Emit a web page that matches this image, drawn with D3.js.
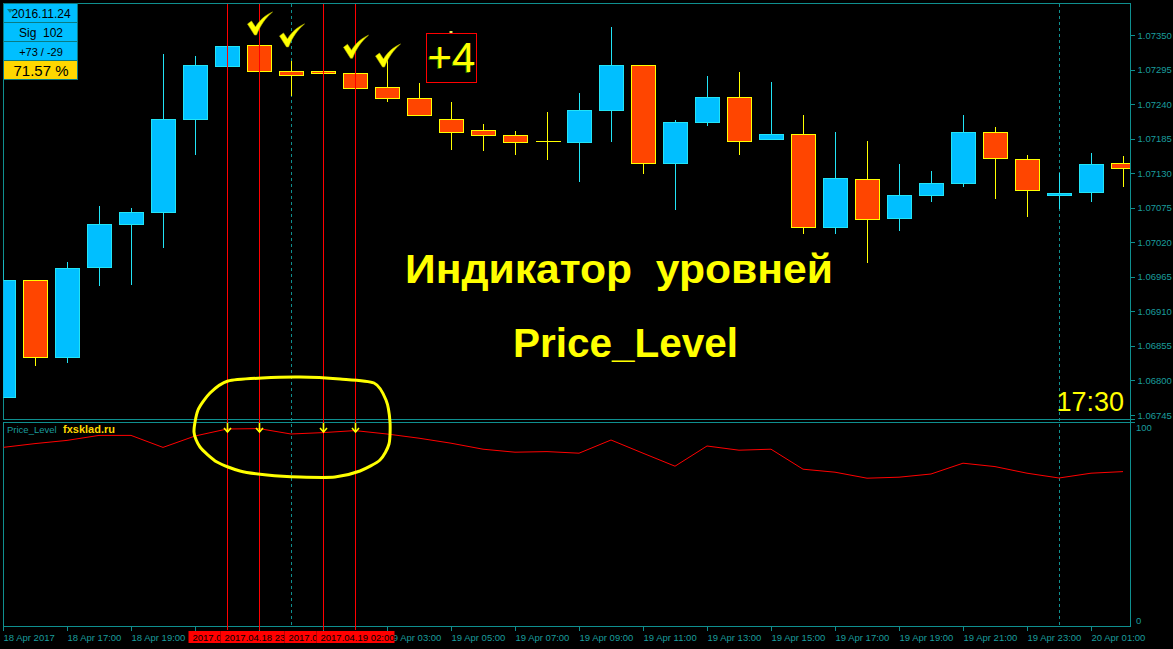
<!DOCTYPE html>
<html>
<head>
<meta charset="utf-8">
<title>Price_Level</title>
<style>
    html, body {
        margin: 0;
        padding: 0;
        background: #000;
    }

    svg {
        display: block;
    }

    text {
        font-family: "Liberation Sans", Arial, sans-serif;
    }
</style>
</head>
<body>
<script src="https://cdn.jsdelivr.net/npm/d3@7"></script>
<script>

    const width = 1173,
        height = 649;

    // EURUSD H1, 18 Apr 2017 15:00 .. 20 Apr 2017 02:00
    const opens = [1.06774, 1.06960, 1.06838, 1.06980, 1.07049, 1.07068, 1.07216, 1.07300, 1.07334, 1.07293,
        1.07293, 1.07290, 1.07267, 1.07249, 1.07217, 1.07198, 1.07190, 1.07181, 1.07180, 1.07230,
        1.07303, 1.07147, 1.07211, 1.07251, 1.07184, 1.07192, 1.07044, 1.07120, 1.07058, 1.07096,
        1.07114, 1.07195, 1.07152, 1.07095, 1.07100, 1.07146];
    const highs = [1.06992, 1.06960, 1.06988, 1.07078, 1.07075, 1.07320, 1.07317, 1.07333, 1.07334, 1.07309,
        1.07293, 1.07290, 1.07313, 1.07274, 1.07243, 1.07208, 1.07197, 1.07227, 1.07258, 1.07363,
        1.07303, 1.07215, 1.07285, 1.07291, 1.07275, 1.07223, 1.07196, 1.07181, 1.07145, 1.07134,
        1.07223, 1.07204, 1.07159, 1.07130, 1.07162, 1.07157];
    const lows = [1.06774, 1.06824, 1.06830, 1.06952, 1.06954, 1.07013, 1.07160, 1.07300, 1.07293, 1.07254,
        1.07289, 1.07266, 1.07245, 1.07222, 1.07169, 1.07167, 1.07161, 1.07152, 1.07118, 1.07182,
        1.07131, 1.07073, 1.07206, 1.07161, 1.07184, 1.07035, 1.07035, 1.06989, 1.07040, 1.07085,
        1.07110, 1.07090, 1.07062, 1.07074, 1.07086, 1.07110];
    const closes = [1.06960, 1.06838, 1.06979, 1.07049, 1.07068, 1.07216, 1.07302, 1.07333, 1.07293, 1.07287,
        1.07289, 1.07266, 1.07250, 1.07222, 1.07196, 1.07190, 1.07180, 1.07181, 1.07230, 1.07303,
        1.07147, 1.07211, 1.07252, 1.07182, 1.07192, 1.07044, 1.07122, 1.07057, 1.07096, 1.07114,
        1.07195, 1.07154, 1.07103, 1.07098, 1.07144, 1.07138];

    // Price_Level indicator (0..100)
    const levelValues = [88.3, 90.2, 91.8, 94.3, 94.3, 88.3, 94.0, 97.5, 97.7, 95.0,
        95.7, 96.7, 95.0, 92.9, 90.4, 87.4, 85.9, 86.2, 85.4, 92.0,
        85.4, 78.9, 89.0, 86.9, 87.4, 77.4, 75.9, 72.9, 73.4, 75.0,
        80.4, 78.7, 75.4, 73.0, 75.4, 76.2];

    const priceTicks = [1.06745, 1.06800, 1.06855, 1.06910, 1.06965, 1.07020,
        1.07075, 1.07130, 1.07185, 1.07240, 1.07295, 1.07350];
    const levelTicks = [0, 100];

    const timeTicks = [0, 2, 4, 6, 8, 10, 12, 14, 16, 18, 20, 22, 24, 26, 28, 30, 32, 34];
    const timeLabels = ["18 Apr 2017", "18 Apr 17:00", "18 Apr 19:00", "18 Apr 21:00", "18 Apr 23:00",
        "19 Apr 01:00", "19 Apr 03:00", "19 Apr 05:00", "19 Apr 07:00", "19 Apr 09:00", "19 Apr 11:00",
        "19 Apr 13:00", "19 Apr 15:00", "19 Apr 17:00", "19 Apr 19:00", "19 Apr 21:00", "19 Apr 23:00",
        "20 Apr 01:00"];

    // signal bars (red vertical lines), day separators
    const markedBars = [7, 8, 10, 11];
    // the tags overlap each other on the time scale, only these parts stay visible
    const markedLabels = ["2017.0", "2017.04.18 23", "2017.0", "2017.04.19 02:00"];
    const daySeparators = [9, 33];

    // check marks: bar and price under the mark
    const checkBars = [8, 9, 11, 12];
    const checkPrices = [1.07350, 1.07331, 1.07313, 1.07299];

    const infoRows = ["2016.11.24", "Sig  102", "+73 / -29", "71.57 %"];

    // hand drawn circle around the signals (screen pixels)
    const circlePoints = [[228, 381], [262, 378], [300, 377], [340, 379], [374, 383], [386, 400], [390, 422],
        [389, 444], [380, 460], [360, 471], [335, 477], [300, 477], [267, 475], [240, 471], [217, 462],
        [200, 447], [194, 432], [198, 410], [210, 393]];

    const teal = "#0f8f8f",
        tealText = "#1a9c9c";

    const svg = d3.select("body").append("svg")
        .attr("width", width)
        .attr("height", height)
        .style("background", "#000");

    const x = d3.scaleLinear().domain([0, 35]).range([3, 1123]);
    const y = d3.scaleLinear().domain([1.06745, 1.07350]).range([415, 35]);
    const yLevel = d3.scaleLinear().domain([0, 100]).range([624, 424]);

    const px = i => Math.round(x(i)) + 0.5;

    svg.append("clipPath").attr("id", "mainClip")
        .append("rect").attr("x", 3.5).attr("y", 3.5).attr("width", 1126.5).attr("height", 415);
    svg.append("clipPath").attr("id", "levelClip")
        .append("rect").attr("x", 3.5).attr("y", 422.5).attr("width", 1126.5).attr("height", 203);

    // frames
    const frames = svg.append("g")
        .attr("fill", "none")
        .attr("stroke", teal)
        .attr("shape-rendering", "crispEdges");
    frames.append("rect").attr("x", 3.5).attr("y", 3.5).attr("width", 1127).attr("height", 416);
    frames.append("rect").attr("x", 3.5).attr("y", 422.5).attr("width", 1127).attr("height", 204);
    frames.append("line").attr("x1", 1130.5).attr("x2", 1135).attr("y1", 419.5).attr("y2", 419.5);
    frames.append("line").attr("x1", 1130.5).attr("x2", 1135).attr("y1", 422.5).attr("y2", 422.5);

    // day separators
    svg.append("g")
        .selectAll("line")
        .data(daySeparators)
        .join("line")
        .attr("x1", d => px(d)).attr("x2", d => px(d))
        .attr("y1", 4).attr("y2", 626)
        .attr("stroke", teal)
        .attr("stroke-dasharray", "3,3")
        .attr("shape-rendering", "crispEdges");

    // candles
    const candles = svg.append("g")
        .attr("clip-path", "url(#mainClip)")
        .attr("shape-rendering", "crispEdges");

    const bars = d3.range(opens.length).map(i => ({
        i: i, o: opens[i], h: highs[i], l: lows[i], c: closes[i]
    }));
    const edgeColor = d => d.c > d.o ? "#22e4f6" : "#ffff00";

    candles.selectAll(".wick")
        .data(bars)
        .join("line")
        .attr("class", "wick")
        .attr("x1", d => px(d.i)).attr("x2", d => px(d.i))
        .attr("y1", d => Math.round(y(d.h)))
        .attr("y2", d => Math.round(y(d.l)) + 1)
        .attr("stroke", edgeColor);

    candles.selectAll(".body")
        .data(bars.filter(d => d.o !== d.c))
        .join("rect")
        .attr("class", "body")
        .attr("x", d => px(d.i) - 12)
        .attr("width", 24)
        .attr("y", d => Math.round(y(Math.max(d.o, d.c))) + 0.5)
        .attr("height", d => Math.max(1, Math.round(y(Math.min(d.o, d.c))) - Math.round(y(Math.max(d.o, d.c)))))
        .attr("fill", d => d.c > d.o ? "#00bfff" : "#ff4500")
        .attr("stroke", edgeColor);

    candles.selectAll(".doji")
        .data(bars.filter(d => d.o === d.c))
        .join("line")
        .attr("class", "doji")
        .attr("x1", d => px(d.i) - 12).attr("x2", d => px(d.i) + 13)
        .attr("y1", d => Math.round(y(d.o)) + 0.5).attr("y2", d => Math.round(y(d.o)) + 0.5)
        .attr("stroke", "#ffff00");

    // indicator line
    svg.append("path")
        .datum(levelValues)
        .attr("clip-path", "url(#levelClip)")
        .attr("fill", "none")
        .attr("stroke", "#ff0000")
        .attr("stroke-width", 1)
        .attr("d", d3.line().x((d, i) => x(i)).y(d => yLevel(d)));

    // signal lines
    svg.append("g")
        .selectAll("line")
        .data(markedBars)
        .join("line")
        .attr("x1", d => px(d)).attr("x2", d => px(d))
        .attr("y1", 4).attr("y2", 630)
        .attr("stroke", "#ff0000")
        .attr("shape-rendering", "crispEdges");

    // arrows on the indicator
    const arrows = svg.append("g")
        .attr("fill", "none")
        .attr("stroke", "#ffff00")
        .attr("stroke-width", 1.6);
    arrows.selectAll(".stem")
        .data(markedBars)
        .join("line")
        .attr("x1", d => px(d)).attr("x2", d => px(d))
        .attr("y1", yLevel(100.5)).attr("y2", yLevel(96));
    arrows.selectAll(".head")
        .data(markedBars)
        .join("path")
        .attr("d", d => `M${px(d) - 3.5},${yLevel(98)} L${px(d)},${yLevel(96)} L${px(d) + 3.5},${yLevel(98)}`);

    // price axis
    const priceAxis = svg.append("g")
        .attr("transform", "translate(1130.5,0)")
        .call(d3.axisRight(y).tickValues(priceTicks).tickFormat(d3.format(".5f")).tickSize(4).tickPadding(3));
    priceAxis.select(".domain").remove();
    priceAxis.selectAll("line").attr("stroke", teal).attr("shape-rendering", "crispEdges");
    priceAxis.selectAll("text")
        .attr("fill", tealText)
        .style("font-size", "9.5px")
        .style("font-family", "'Liberation Sans', Arial, sans-serif");

    svg.append("line")
        .attr("x1", 1130.5).attr("x2", 1130.5).attr("y1", 3).attr("y2", 627)
        .attr("stroke", teal).attr("shape-rendering", "crispEdges");

    svg.append("g")
        .selectAll("text")
        .data(levelTicks)
        .join("text")
        .attr("x", 1136)
        .attr("y", d => yLevel(d) + (d === 100 ? 7 : 0))
        .attr("fill", tealText)
        .style("font-size", "9.5px")
        .text(d => d);

    // red tag band on the time scale
    const tagHalf = 39;
    const tagLeft = d => px(d) - tagHalf;
    const bandStart = tagLeft(markedBars[0]),
        bandEnd = px(markedBars[markedBars.length - 1]) + tagHalf;

    // time axis
    const timeAxis = svg.append("g")
        .attr("transform", "translate(0,626.5)")
        .call(d3.axisBottom(x).tickValues(timeTicks).tickFormat((d, i) => timeLabels[i]).tickSize(4));
    timeAxis.select(".domain").remove();
    timeAxis.selectAll(".tick").attr("transform", d => `translate(${px(d)},0)`);
    timeAxis.selectAll("line").attr("stroke", teal).attr("shape-rendering", "crispEdges");
    // labels fully hidden under the red tags are not drawn
    timeAxis.selectAll(".tick")
        .filter(d => px(d) >= bandStart && px(d) + 55 <= bandEnd)
        .select("text").remove();
    timeAxis.selectAll("text")
        .attr("fill", tealText)
        .attr("text-anchor", "start")
        .attr("x", 0)
        .attr("y", 14)
        .attr("dy", null)
        .style("font-size", "9.5px")
        .style("font-family", "'Liberation Sans', Arial, sans-serif");

    // red time tags of the signal lines, each one covers the previous
    const markTags = svg.append("g")
        .selectAll("g")
        .data(markedBars)
        .join("g")
        .attr("transform", d => `translate(${tagLeft(d)},0)`);
    markTags.append("rect")
        .attr("y", 631)
        .attr("width", (d, i) => i < markedBars.length - 1 ? tagLeft(markedBars[i + 1]) - tagLeft(d) : tagHalf * 2)
        .attr("height", 12)
        .attr("fill", "#ff0000");
    markTags.append("text")
        .attr("x", 4)
        .attr("y", 640.5)
        .attr("fill", "#000")
        .style("font-size", "9.5px")
        .text((d, i) => markedLabels[i]);
    svg.append("g")
        .selectAll("line")
        .data(markedBars)
        .join("line")
        .attr("x1", d => px(d)).attr("x2", d => px(d))
        .attr("y1", 626).attr("y2", 630)
        .attr("stroke", "#ff0000")
        .attr("shape-rendering", "crispEdges");

    // check marks
    svg.append("g")
        .selectAll("path")
        .data(checkBars)
        .join("path")
        .attr("transform", (d, i) => `translate(${px(d) - 12},${y(checkPrices[i]) - 23})`)
        .attr("d", "M0,12 L4,9 L8,15 C12,8 18,3 25,0 C18,6 13,13 9,23 L7,23 Z")
        .attr("fill", "#ffff00")
        .attr("stroke", "#b8b800")
        .attr("stroke-width", 0.6);

    // +4 box
    const plusX = px(14);
    svg.append("rect")
        .attr("x", plusX - 25).attr("y", Math.round(y(1.07353)) + 0.5)
        .attr("width", 50).attr("height", 49)
        .attr("fill", "none")
        .attr("stroke", "#ff0000")
        .attr("shape-rendering", "crispEdges");
    svg.append("rect")
        .attr("x", plusX - 2).attr("y", Math.round(y(1.07353)) - 2)
        .attr("width", 3).attr("height", 2)
        .attr("fill", "#d8f060");
    svg.append("text")
        .attr("x", plusX - 1).attr("y", y(1.07275) - 9)
        .attr("text-anchor", "middle")
        .attr("fill", "#2a6a00")
        .style("font-size", "42px")
        .text("+4");
    svg.append("text")
        .attr("x", plusX).attr("y", y(1.07275) - 10)
        .attr("text-anchor", "middle")
        .attr("fill", "#ffff00")
        .style("font-size", "42px")
        .text("+4");

    // titles
    svg.append("text")
        .attr("x", 405).attr("y", 283)
        .attr("textLength", 428)
        .attr("lengthAdjust", "spacingAndGlyphs")
        .attr("fill", "#ffff00")
        .style("font-size", "40px")
        .style("font-weight", "bold")
        .style("white-space", "pre")
        .text("Индикатор  уровней");
    svg.append("text")
        .attr("x", 513).attr("y", 357)
        .attr("textLength", 225)
        .attr("lengthAdjust", "spacingAndGlyphs")
        .attr("fill", "#ffff00")
        .style("font-size", "40px")
        .style("font-weight", "bold")
        .text("Price_Level");

    svg.append("text")
        .attr("x", 1124).attr("y", 411)
        .attr("text-anchor", "end")
        .attr("fill", "#ffff00")
        .style("font-size", "27px")
        .text("17:30");

    // indicator caption
    svg.append("text")
        .attr("x", 7).attr("y", 433)
        .attr("fill", tealText)
        .style("font-size", "9.5px")
        .text("Price_Level");
    svg.append("text")
        .attr("x", 63).attr("y", 433)
        .attr("fill", "#ffd700")
        .style("font-size", "11px")
        .style("font-weight", "bold")
        .text("fxsklad.ru");

    // hand drawn circle
    svg.append("path")
        .datum(circlePoints)
        .attr("fill", "none")
        .attr("stroke", "#ffff00")
        .attr("stroke-width", 3)
        .attr("d", d3.line().curve(d3.curveCardinalClosed.tension(0.3)));

    // info panel
    const info = svg.append("g").attr("transform", "translate(3,3)");
    info.selectAll("rect")
        .data(infoRows)
        .join("rect")
        .attr("x", 0.5).attr("y", (d, i) => i * 19 + 0.5)
        .attr("width", 74).attr("height", 19)
        .attr("fill", (d, i) => i === 3 ? "#ffd700" : "#00bfff")
        .attr("stroke", "#0a7b82")
        .attr("shape-rendering", "crispEdges");
    info.selectAll("text")
        .data(infoRows)
        .join("text")
        .attr("x", 38).attr("y", (d, i) => i * 19 + 14.5 + (i === 3 ? 1 : 0))
        .attr("text-anchor", "middle")
        .attr("fill", "#000")
        .style("font-size", (d, i) => i === 3 ? "15px" : (i === 2 ? "11px" : "12px"))
        .style("white-space", "pre")
        .text(d => d);
    info.append("path")
        .attr("d", "M4,6 L10,6 L7,10 Z")
        .attr("fill", "#0a7b82");

</script>
</body>
</html>
